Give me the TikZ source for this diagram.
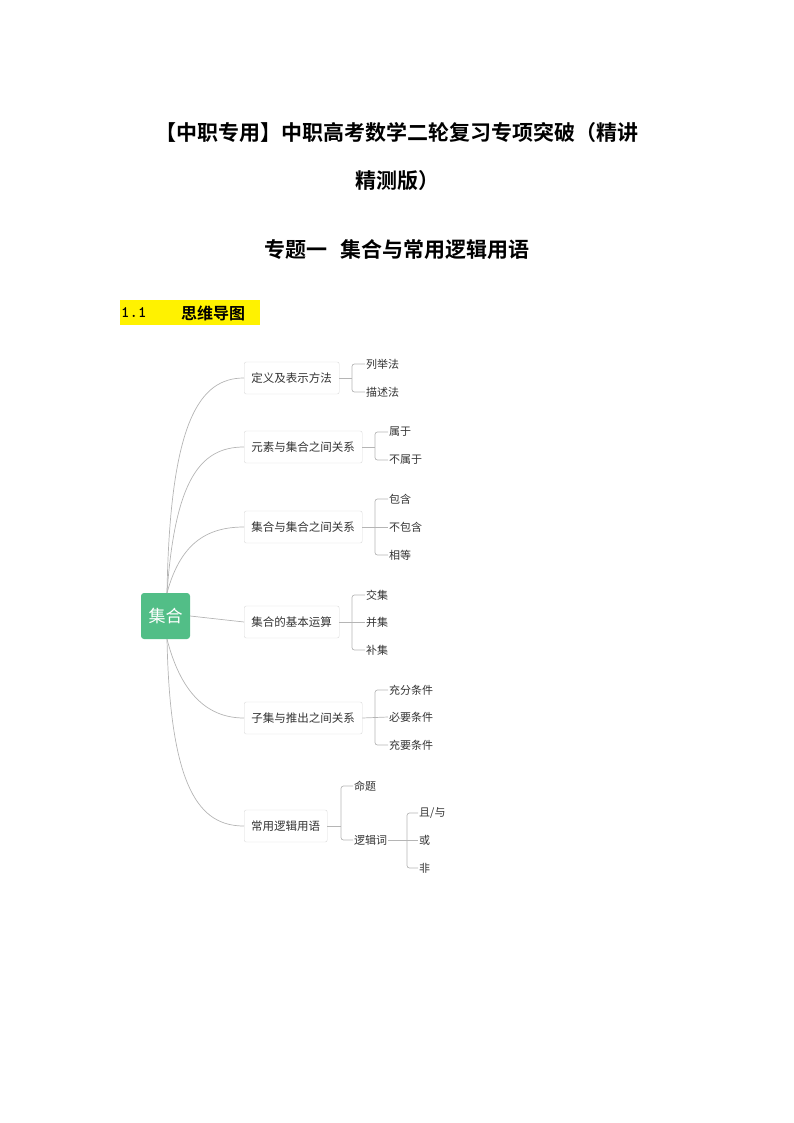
\documentclass[tikz,border=0pt]{standalone}
\usepackage{fontspec}
\setmainfont{Liberation Serif}
\newfontfamily\cjk{Noto Sans CJK SC}
\newfontfamily\cjkb{Noto Sans CJK SC}[BoldFont={Noto Sans CJK SC Bold},UprightFont={Noto Sans CJK SC Bold}]
\definecolor{rootgreen}{HTML}{52BE87}
\definecolor{linegray}{HTML}{B5B5B5}
\definecolor{boxgray}{HTML}{D9D9D9}
\definecolor{txt}{HTML}{333333}
\tikzset{
  br/.style={draw=boxgray,rounded corners=2pt,fill=white,minimum height=32,inner xsep=6,font=\cjk\fontsize{11.5}{12}\selectfont,text=txt,anchor=west},
  lf/.style={font=\cjk\fontsize{11}{12}\selectfont,text=txt,anchor=west,inner sep=1},
  ln/.style={draw=linegray,line width=0.7pt},
  brk/.style={ln,rounded corners=2.5pt}
}
\begin{document}
\begin{tikzpicture}[x=1pt,y=-1pt]
\useasboundingbox (0,0) rectangle (794,1123);
\node[font=\cjkb\fontsize{21}{24}\selectfont] (t1) at (397,133) {【中职专用】中职高考数学二轮复习专项突破（精讲};
\node[font=\cjkb\fontsize{21}{24}\selectfont] (t2) at (397,181) {精测版）};
\node[font=\cjkb\fontsize{21}{24}\selectfont] (t3) at (397,250) {专题一\hspace{0.6em}集合与常用逻辑用语};
\fill[yellow] (120,300) rectangle (260,325);
\node[anchor=west,font=\ttfamily\fontsize{16}{18}\selectfont\bfseries,inner sep=0] (n11) at (121,313) {1.1};
\node[anchor=west,font=\cjkb\fontsize{16}{18}\selectfont,inner sep=0] (h11) at (181,313) {思维导图};

\node[fill=rootgreen,rounded corners=3pt,minimum width=49,minimum height=46,text=white,font=\cjk\fontsize{17}{18}\selectfont] (root) at (165.5,616) {集合};

\node[br,minimum width=95] (b1) at (244,378) {定义及表示方法};
\node[br,minimum width=118] (b2) at (244,447) {元素与集合之间关系};
\node[br,minimum width=118] (b3) at (244,527) {集合与集合之间关系};
\node[br,minimum width=95] (b4) at (244,622) {集合的基本运算};
\node[br,minimum width=118] (b5) at (244,718) {子集与推出之间关系};
\node[br,minimum width=83] (b6) at (244,826) {常用逻辑用语};

\coordinate (rt) at (167,593);
\coordinate (rb) at (167,639);
\draw[ln] (rt) .. controls (170,420) and (200,378) .. (b1.west);
\draw[ln] (rt) .. controls (175,480) and (200,447) .. (b2.west);
\draw[ln] (rt) .. controls (180,545) and (205,527) .. (b3.west);
\draw[ln] (root.east) -- (b4.west);
\draw[ln] (rb) .. controls (180,690) and (205,718) .. (b5.west);
\draw[ln] (rb) .. controls (170,790) and (200,826) .. (b6.west);

% b1
\node[lf] (l11) at (365,364) {列举法};
\node[lf] (l12) at (365,392) {描述法};
\draw[ln] (b1.east) -- (352,378);
\draw[brk] (l11.west) -- (352,364) -- (352,392) -- (l12.west);
% b2
\node[lf] (l21) at (388,432) {属于};
\node[lf] (l22) at (388,460) {不属于};
\draw[ln] (b2.east) -- (375,447);
\draw[brk] (l21.west) -- (375,432) -- (375,460) -- (l22.west);
% b3
\node[lf] (l31) at (388,499) {包含};
\node[lf] (l32) at (388,527) {不包含};
\node[lf] (l33) at (388,555) {相等};
\draw[ln] (b3.east) -- (l32.west);
\draw[brk] (l31.west) -- (375,499) -- (375,555) -- (l33.west);
% b4
\node[lf] (l41) at (365,595) {交集};
\node[lf] (l42) at (365,622) {并集};
\node[lf] (l43) at (365,650) {补集};
\draw[ln] (b4.east) -- (l42.west);
\draw[brk] (l41.west) -- (352,595) -- (352,650) -- (l43.west);
% b5
\node[lf] (l51) at (388,690) {充分条件};
\node[lf] (l52) at (388,717) {必要条件};
\node[lf] (l53) at (388,745) {充要条件};
\draw[ln] (b5.east) -- (l52.west);
\draw[brk] (l51.west) -- (375,690) -- (375,745) -- (l53.west);
% b6
\node[lf] (l61) at (353,786) {命题};
\node[lf] (l62) at (353,840) {逻辑词};
\draw[ln] (b6.east) -- (341,826);
\draw[brk] (l61.west) -- (341,786) -- (341,840) -- (l62.west);
\node[lf] (l71) at (418,813) {且/与};
\node[lf] (l72) at (418,840) {或};
\node[lf] (l73) at (418,868) {非};
\draw[ln] (l62.east) -- (l72.west);
\draw[brk] (l71.west) -- (407,813) -- (407,868) -- (l73.west);
\end{tikzpicture}
\end{document}
